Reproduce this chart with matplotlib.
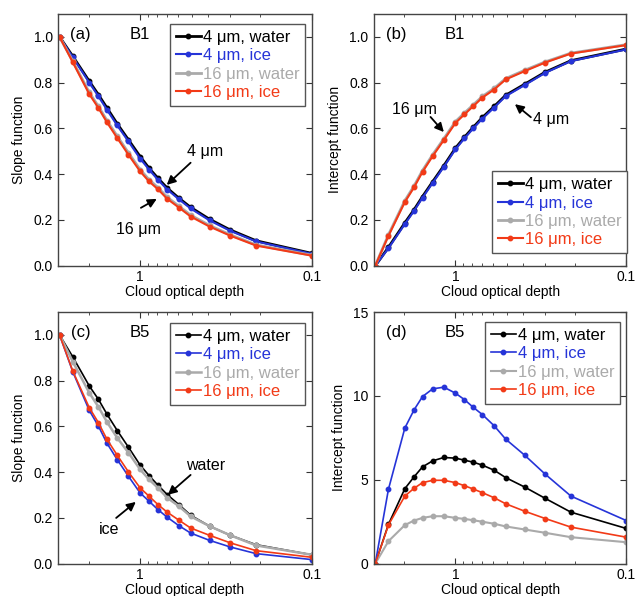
import numpy as np
import matplotlib
matplotlib.use("Agg")
import matplotlib.pyplot as plt
from matplotlib.ticker import LogLocator, FixedLocator, FixedFormatter, NullFormatter

plt.rcParams['font.family'] = ['Liberation Sans', 'DejaVu Sans']

# ---- data ----
tau = [2.95, 2.47, 1.98, 1.75, 1.56, 1.36, 1.17, 1.0, 0.887, 0.787, 0.695,
       0.594, 0.508, 0.394, 0.298, 0.211, 0.1]

labels = ['4 μm, water', '4 μm, ice', '16 μm, water', '16 μm, ice']
colors = ['black', '#2634d8', '#aaaaaa', '#f23a17']

# B1 slope
b1_slope_4w = [1.0, 0.915, 0.806, 0.747, 0.689, 0.620, 0.550, 0.477, 0.426, 0.382,
               0.339, 0.295, 0.255, 0.203, 0.156, 0.109, 0.054]
b1_slope_4i = [1.0, 0.911, 0.800, 0.740, 0.681, 0.613, 0.543, 0.468, 0.420, 0.375,
               0.333, 0.290, 0.250, 0.198, 0.152, 0.106, 0.052]
b1_slope_16w = [1.0, 0.894, 0.757, 0.696, 0.634, 0.566, 0.493, 0.420, 0.376, 0.341,
                0.299, 0.260, 0.221, 0.176, 0.135, 0.091, 0.046]
b1_slope_16i = [1.0, 0.889, 0.750, 0.689, 0.626, 0.558, 0.485, 0.412, 0.368, 0.334,
                0.292, 0.254, 0.215, 0.171, 0.131, 0.088, 0.044]

# B1 intercept
b1_int_4w = [0.0, 0.080, 0.187, 0.244, 0.302, 0.367, 0.437, 0.514, 0.561, 0.605,
             0.648, 0.696, 0.745, 0.793, 0.846, 0.896, 0.947]
b1_int_4i = [0.0, 0.076, 0.182, 0.239, 0.297, 0.362, 0.432, 0.509, 0.556, 0.600,
             0.643, 0.691, 0.741, 0.789, 0.843, 0.894, 0.945]
b1_int_16w = [0.0, 0.135, 0.284, 0.348, 0.416, 0.485, 0.555, 0.630, 0.667, 0.703,
              0.740, 0.775, 0.818, 0.854, 0.891, 0.929, 0.966]
b1_int_16i = [0.0, 0.130, 0.278, 0.342, 0.410, 0.479, 0.549, 0.624, 0.661, 0.697,
              0.735, 0.770, 0.814, 0.850, 0.888, 0.927, 0.964]

# B5 slope
b5_slope_4w = [1.0, 0.904, 0.777, 0.718, 0.653, 0.582, 0.509, 0.431, 0.385, 0.343,
               0.302, 0.258, 0.212, 0.164, 0.124, 0.083, 0.039]
b5_slope_4i = [1.0, 0.839, 0.670, 0.601, 0.526, 0.455, 0.382, 0.309, 0.273, 0.236,
               0.203, 0.166, 0.134, 0.102, 0.073, 0.044, 0.018]
b5_slope_16w = [1.0, 0.883, 0.747, 0.685, 0.619, 0.550, 0.485, 0.412, 0.368, 0.331,
                0.288, 0.251, 0.207, 0.164, 0.124, 0.080, 0.039]
b5_slope_16i = [1.0, 0.842, 0.682, 0.616, 0.543, 0.474, 0.401, 0.331, 0.295, 0.258,
                0.225, 0.190, 0.156, 0.124, 0.091, 0.057, 0.028]

# B5 intercept
b5_int_4w = [0.0, 2.34, 4.47, 5.17, 5.77, 6.13, 6.33, 6.29, 6.17, 6.05,
             5.87, 5.57, 5.13, 4.57, 3.89, 3.07, 2.10]
b5_int_4i = [0.0, 4.43, 8.08, 9.16, 9.96, 10.42, 10.52, 10.16, 9.78, 9.32,
             8.88, 8.22, 7.42, 6.47, 5.33, 4.03, 2.57]
b5_int_16w = [0.0, 1.34, 2.30, 2.57, 2.73, 2.83, 2.83, 2.73, 2.67, 2.59,
              2.50, 2.38, 2.22, 2.04, 1.84, 1.58, 1.28]
b5_int_16i = [0.0, 2.30, 4.03, 4.49, 4.83, 4.97, 4.97, 4.83, 4.65, 4.45,
              4.23, 3.93, 3.57, 3.13, 2.69, 2.18, 1.58]


def setup_axis(ax, ylabel, ylim, yticks, yticklabels):
    ax.set_xscale('log')
    ax.set_xlim(3.0, 0.1)
    ax.xaxis.set_major_locator(FixedLocator([1.0, 0.1]))
    ax.xaxis.set_major_formatter(FixedFormatter(['1', '0.1']))
    ax.xaxis.set_minor_locator(LogLocator(base=10, subs=np.arange(2, 10)))
    ax.xaxis.set_minor_formatter(NullFormatter())
    ax.set_ylim(*ylim)
    ax.set_yticks(yticks)
    ax.set_yticklabels(yticklabels)
    ax.tick_params(which='both', direction='in', top=True, right=True,
                   labelsize=10, color='#333333')
    ax.tick_params(axis='x', pad=3)
    ax.tick_params(axis='y', pad=4)
    ax.tick_params(which='major', length=4)
    ax.tick_params(which='minor', length=2)
    for sp in ax.spines.values():
        sp.set_color('#444444')
        sp.set_linewidth(1.0)
    ax.set_xlabel('Cloud optical depth', fontsize=10, labelpad=1)
    ax.set_ylabel(ylabel, fontsize=10, labelpad=5)


def draw_series(ax, series, widths):
    for y, c, lab, lw in zip(series, colors, labels, widths):
        ax.plot(tau, y, '-o', color=c, lw=lw, ms=3.2, label=lab)


def draw_legend(ax, loc, anchor):
    leg = ax.legend(loc=loc, bbox_to_anchor=anchor, fontsize=12, numpoints=1,
                    handlelength=1.5, handletextpad=0.1, labelspacing=0.2,
                    borderpad=0.35, borderaxespad=0, fancybox=False,
                    edgecolor='#555555', framealpha=1)
    leg.get_frame().set_linewidth(1.0)
    for txt, c in zip(leg.get_texts(), colors):
        txt.set_color(c)


def panel_tag(ax, tag, band):
    ax.text(0.087, 0.92, tag, transform=ax.transAxes, fontsize=12, ha='center', va='center')
    ax.text(0.32, 0.92, band, transform=ax.transAxes, fontsize=12, ha='center', va='center')


def arrow(ax, tail, head):
    ax.annotate('', xy=head, xytext=tail,
                arrowprops=dict(arrowstyle='-|>', color='black', lw=1.3,
                                mutation_scale=13, shrinkA=0, shrinkB=0))


fig = plt.figure(figsize=(6.36, 5.96), dpi=100)
W, H = 636, 596


def px_axes(l, r, t, b):
    return fig.add_axes([l / W, 1 - b / H, (r - l) / W, (b - t) / H])


ax_a = px_axes(58.3, 311.7, 14, 265.7)
ax_b = px_axes(374, 626.3, 14, 265.7)
ax_c = px_axes(58.3, 311.7, 312, 563.7)
ax_d = px_axes(374, 626.3, 312, 563.7)

unit_ticks = [0, 0.2, 0.4, 0.6, 0.8, 1.0]
unit_labels = ['0.0', '0.2', '0.4', '0.6', '0.8', '1.0']

# (a) B1 slope
draw_series(ax_a, [b1_slope_4w, b1_slope_4i, b1_slope_16w, b1_slope_16i], [2.0, 1.5, 2.0, 1.5])
setup_axis(ax_a, 'Slope function', (0, 1.1), unit_ticks, unit_labels)
draw_legend(ax_a, 'upper right', (0.974, 0.960))
panel_tag(ax_a, '(a)', 'B1')
ax_a.text(0.416, 0.50, '4 μm', fontsize=11.5, ha='center', va='center')
arrow(ax_a, (0.508, 0.45), (0.70, 0.353))
ax_a.text(1.02, 0.16, '16 μm', fontsize=11.5, ha='center', va='center')
arrow(ax_a, (0.99, 0.253), (0.80, 0.292))

# (b) B1 intercept
draw_series(ax_b, [b1_int_4w, b1_int_4i, b1_int_16w, b1_int_16i], [2.0, 1.5, 2.0, 1.5])
setup_axis(ax_b, 'Intercept function', (0, 1.1), unit_ticks, unit_labels)
draw_legend(ax_b, 'lower right', (1.003, 0.05))
panel_tag(ax_b, '(b)', 'B1')
ax_b.text(1.73, 0.684, '16 μm', fontsize=11.5, ha='center', va='center')
arrow(ax_b, (1.40, 0.65), (1.17, 0.584))
ax_b.text(0.276, 0.641, '4 μm', fontsize=11.5, ha='center', va='center')
arrow(ax_b, (0.362, 0.649), (0.449, 0.706))

# (c) B5 slope
draw_series(ax_c, [b5_slope_4w, b5_slope_4i, b5_slope_16w, b5_slope_16i], [1.2, 1.2, 1.8, 1.2])
setup_axis(ax_c, 'Slope function', (0, 1.1), unit_ticks, unit_labels)
draw_legend(ax_c, 'upper right', (0.974, 0.956))
panel_tag(ax_c, '(c)', 'B5')
ax_c.text(0.416, 0.428, 'water', fontsize=11.5, ha='center', va='center')
arrow(ax_c, (0.508, 0.388), (0.69, 0.301))
ax_c.text(1.52, 0.148, 'ice', fontsize=11.5, ha='center', va='center')
arrow(ax_c, (1.38, 0.20), (1.06, 0.27))

# (d) B5 intercept
draw_series(ax_d, [b5_int_4w, b5_int_4i, b5_int_16w, b5_int_16i], [1.2, 1.2, 1.5, 1.2])
setup_axis(ax_d, 'Intercept function', (0, 15), [0, 5, 10, 15], ['0', '5', '10', '15'])
draw_legend(ax_d, 'upper right', (0.975, 0.960))
panel_tag(ax_d, '(d)', 'B5')

fig.savefig('out.png', dpi=100)
